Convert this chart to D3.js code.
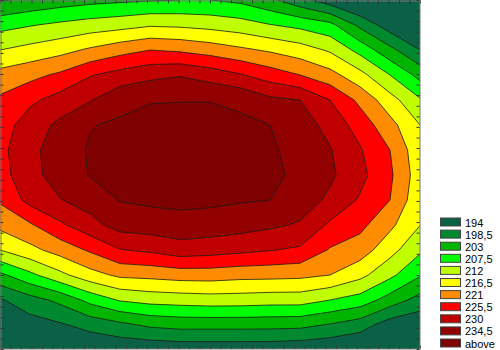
<!DOCTYPE html>
<html>
<head>
<meta charset="utf-8">
<script src="https://cdn.jsdelivr.net/npm/d3@7"></script>
<style>
body { margin: 0; background: #fff; }
text { font-family: Arial, "Liberation Sans", sans-serif; }
</style>
</head>
<body>
<div id="chart"></div>
<script>
// contour levels (upper bound of each legend class)
var levels = [194, 198.5, 203, 207.5, 212, 216.5, 221, 225.5, 230, 234.5];
var labels = ["194", "198,5", "203", "207,5", "212", "216,5", "221", "225,5", "230", "234,5", "above"];
var colors = ["#0b6146", "#00892f", "#00b400", "#00ff00", "#bfff00", "#ffff00",
              "#ff8c00", "#ff0000", "#c00000", "#920000", "#7f0000"];

// surface values: rows every 25px from the top, columns every 30px from the left
var zRows = [
  [198.0, 199.5, 200.7, 201.6, 202.2, 202.6, 203.0, 203.0, 202.0, 199.5, 195.5, 191.5, 188.0, 184.0, 180.0],
  [205.9, 207.2, 208.4, 209.5, 210.3, 211.5, 211.2, 210.5, 209.5, 207.7, 206.3, 204.3, 197.4, 191.6, 187.0],
  [212.0, 213.5, 215.0, 217.2, 219.3, 221.0, 220.3, 219.0, 217.4, 215.9, 214.1, 211.4, 206.0, 199.8, 194.0],
  [218.1, 219.7, 221.8, 225.2, 227.2, 228.8, 229.7, 228.1, 225.9, 223.3, 221.0, 218.1, 213.5, 207.5, 201.5],
  [221.8, 224.6, 227.3, 229.7, 233.3, 234.3, 234.4, 234.4, 233.9, 231.0, 230.0, 225.5, 219.9, 213.8, 208.0],
  [223.3, 227.8, 231.0, 234.3, 235.1, 235.6, 235.6, 235.6, 235.1, 234.5, 232.3, 228.4, 223.6, 218.0, 212.0],
  [224.3, 228.7, 232.4, 234.9, 235.9, 236.4, 236.8, 236.6, 235.8, 235.0, 233.3, 230.3, 225.9, 221.0, 213.3],
  [223.8, 228.5, 232.1, 234.7, 235.6, 236.3, 236.9, 236.6, 235.8, 235.0, 234.0, 230.8, 226.8, 221.8, 214.0],
  [221.6, 227.0, 229.8, 232.0, 234.7, 235.3, 235.6, 235.4, 234.9, 234.5, 232.3, 229.1, 225.0, 221.0, 213.2],
  [217.7, 220.4, 224.7, 228.4, 231.8, 232.3, 232.9, 232.5, 231.8, 230.8, 229.5, 224.7, 222.2, 217.5, 212.1],
  [212.0, 215.2, 218.3, 221.6, 225.3, 226.3, 228.0, 227.4, 226.6, 225.7, 224.8, 220.6, 218.8, 213.6, 208.3],
  [202.0, 206.4, 210.8, 214.8, 217.4, 217.8, 218.5, 218.6, 218.0, 217.9, 217.6, 216.5, 213.3, 208.6, 203.4],
  [193.5, 196.7, 199.6, 204.4, 207.9, 209.1, 209.5, 209.9, 209.8, 209.4, 209.4, 207.5, 205.6, 201.0, 196.8],
  [190.5, 192.0, 193.4, 195.5, 197.3, 199.3, 200.0, 200.0, 200.0, 199.9, 199.7, 198.1, 196.1, 191.6, 190.5],
  [188.0, 189.0, 189.5, 190.0, 190.5, 190.5, 191.0, 191.0, 191.0, 191.0, 190.5, 190.0, 189.0, 188.0, 187.0]
];

var W = 500, H = 350;
var plotW = 420, plotH = 349;

var nx = zRows[0].length, ny = zRows.length;
var values = [].concat.apply([], zRows);

// grid coordinate -> pixel (d3.contours puts sample i at i + 0.5)
var x = d3.scaleLinear().domain([0.5, nx - 0.5]).range([0, plotW]);
var y = d3.scaleLinear().domain([0.5, ny - 0.5]).range([0, 350]);

var path = d3.geoPath(d3.geoTransform({
	point: function(px, py) { this.stream.point(x(px), y(py)); }
}));

var svg = d3.select("#chart")
	.append("svg")
	.attr("width", W)
	.attr("height", H);

svg.append("rect").attr("width", W).attr("height", H).attr("fill", "#fff");

svg.append("clipPath").attr("id", "clip")
	.append("rect").attr("width", plotW).attr("height", plotH);

var map = svg.append("g").attr("clip-path", "url(#clip)");

// lowest class fills the background
map.append("rect")
	.attr("width", plotW).attr("height", plotH)
	.attr("fill", colors[0]);

var contours = d3.contours()
	.size([nx, ny])
	.thresholds(levels)(values);

map.selectAll("path")
	.data(contours)
	.enter().append("path")
	.attr("d", path)
	.attr("fill", function(d, i) { return colors[i + 1]; })
	.attr("stroke", "#1a1a1a")
	.attr("stroke-width", 0.8)
	.attr("stroke-linejoin", "round");

// frame with small inward ticks
var tx = d3.scaleLinear().domain([0, 40]).range([0, plotW]);
var ty = d3.scaleLinear().domain([0, 33]).range([0, plotH]);

var axes = svg.append("g").attr("class", "axes");
axes.append("g").call(d3.axisTop(tx).ticks(40).tickSize(-3).tickFormat("").tickSizeOuter(0))
	.attr("transform", "translate(0,0.5)");
axes.append("g").call(d3.axisBottom(tx).ticks(40).tickSize(-3).tickFormat("").tickSizeOuter(0))
	.attr("transform", "translate(0," + (plotH - 0.5) + ")");
axes.append("g").call(d3.axisLeft(ty).ticks(33).tickSize(-3).tickFormat("").tickSizeOuter(0))
	.attr("transform", "translate(0.5,0)");
axes.append("g").call(d3.axisRight(ty).ticks(33).tickSize(-3).tickFormat("").tickSizeOuter(0))
	.attr("transform", "translate(" + (plotW - 0.5) + ",0)");
axes.selectAll(".domain").attr("stroke", "#7a7a7a");
axes.selectAll(".tick line").attr("stroke", "#333");

// legend
var ly = d3.scaleLinear().domain([0, labels.length - 1]).range([222.5, 343.5]);
var legend = svg.append("g").selectAll("g")
	.data(labels)
	.enter().append("g")
	.attr("transform", function(d, i) { return "translate(0," + ly(i) + ")"; });

legend.append("rect")
	.attr("x", 440.5).attr("y", -4.5)
	.attr("width", 20).attr("height", 8)
	.attr("fill", function(d, i) { return colors[i]; })
	.attr("stroke", "#444");

legend.append("text")
	.attr("x", 465).attr("y", 4)
	.attr("font-size", 11)
	.attr("fill", "#000")
	.text(function(d) { return d; });
</script>
</body>
</html>
